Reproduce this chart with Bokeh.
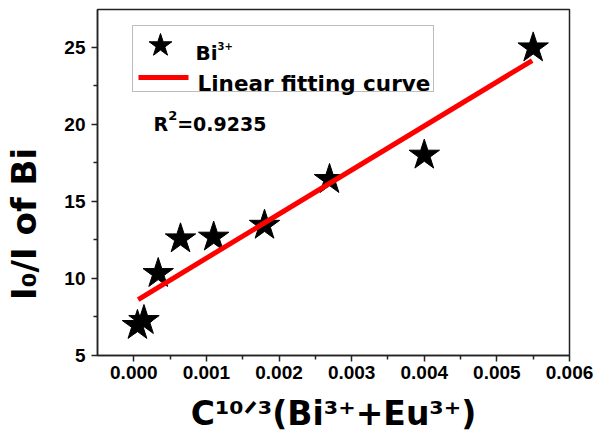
from bokeh.plotting import figure
from bokeh.models import Range1d, Label, FixedTicker, PrintfTickFormatter, BoxAnnotation
from bokeh.embed import file_html
from bokeh.resources import INLINE

# ---- data ----
conc = [0.00005, 0.00014, 0.000336, 0.000643, 0.0011, 0.0018, 0.002695, 0.0040, 0.0055]
ratio = [6.95, 7.27, 10.32, 12.57, 12.68, 13.45, 16.42, 18.0, 24.96]
fit_x = [0.00006, 0.005486]
fit_y = [8.63, 24.14]
x_ticks = [0.0, 0.001, 0.002, 0.003, 0.004, 0.005, 0.006]
y_ticks = [5, 10, 15, 20, 25]
r_squared = "0.9235"
series_label = "Bi"
series_sup = "3+"
fit_label = "Linear fitting curve"
x_title = "C\u00b9\u2070\u141f\u00b3(Bi\u00b3\u207a+Eu\u00b3\u207a)"
y_title = "I\u2080/I of Bi"

# ---- layout ----
W, H = 604, 436
L, R, T, B = 97, 35, 9, 81
X0, X1 = -0.0005, 0.006
Y0, Y1 = 5, 27.45
FW, FH = W - L - R, H - T - B


def dx(px):
    return X0 + (px - L) / FW * (X1 - X0)


def dy(py):
    return Y0 + (H - B - py) / FH * (Y1 - Y0)


# DejaVu Sans Bold advance widths (em)
ADV = {"I": .372, "0": .696, "1": .696, "2": .696, "3": .696, "5": .696, "9": .696,
       "/": .365, " ": .348, "o": .687, "f": .435, "B": .762, "i": .343, "C": .734,
       "(": .456, ")": .456, "+": .838, "E": .683, "u": .712, "R": .770, "=": .838,
       ".": .381}


def tw(text, size):
    return sum(ADV.get(c, .65) for c in text) * size


p = figure(width=W, height=H, x_range=Range1d(X0, X1), y_range=Range1d(Y0, Y1),
           output_backend="svg", toolbar_location=None,
           min_border_left=L, min_border_right=R, min_border_top=T, min_border_bottom=B)
p.background_fill_color = "white"
p.border_fill_color = "white"
p.grid.visible = False
p.outline_line_color = "#222222"
p.outline_line_width = 1.5

x_minor = [(a + b) / 2 for a, b in zip(x_ticks[:-1], x_ticks[1:])]
y_minor = [(a + b) / 2 for a, b in zip(y_ticks[:-1], y_ticks[1:])] + [27.5]
p.xaxis.ticker = FixedTicker(ticks=x_ticks, minor_ticks=x_minor)
p.yaxis.ticker = FixedTicker(ticks=y_ticks, minor_ticks=y_minor)
p.xaxis.formatter = PrintfTickFormatter(format="%.3f")
p.yaxis.formatter = PrintfTickFormatter(format="%d")
for ax in (p.xaxis, p.yaxis):
    ax.axis_line_color = "#222222"
    ax.axis_line_width = 1.5
    ax.major_tick_line_color = "#222222"
    ax.minor_tick_line_color = "#222222"
    ax.major_tick_line_width = 1.5
    ax.minor_tick_line_width = 1.5
    ax.major_tick_in = 0
    ax.major_tick_out = 6
    ax.minor_tick_in = 0
    ax.minor_tick_out = 4
    ax.major_label_text_font = "Liberation Sans"
    ax.major_label_text_font_style = "bold"
    ax.major_label_text_font_size = "19px"
    ax.major_label_text_color = "black"
    ax.axis_label_text_font = "DejaVu Sans"
    ax.axis_label_text_font_style = "bold"
    ax.axis_label_text_color = "black"
p.xaxis.major_label_standoff = 4
p.yaxis.major_label_standoff = 6
# trailing no-break spaces shift the rotated title toward the bottom, as in the reference
p.xaxis.axis_label = x_title
p.yaxis.axis_label = y_title + "\u00a0" * 7
p.xaxis.axis_label_text_font_size = "33px"
p.yaxis.axis_label_text_font_size = "34px"
p.xaxis.axis_label_standoff = 12
p.yaxis.axis_label_standoff = 17

# data and fit
p.scatter(conc, ratio, marker="star", size=32, color="black")
p.line(fit_x, fit_y, line_color="#ff0000", line_width=5)

# legend (manual)
p.add_layout(BoxAnnotation(left=dx(132), right=dx(433), top=dy(25), bottom=dy(91),
                           fill_color=None, line_color="#222222", line_width=1))
p.scatter([dx(160)], [dy(45)], marker="star", size=24, color="black")
p.line([dx(138), dx(188)], [dy(77), dy(77)], line_color="#ff0000", line_width=5)


def lab(text, px, py, size, angle=0.0):
    p.add_layout(Label(x=dx(px), y=dy(py), text=text, text_font="DejaVu Sans",
                       text_font_size=f"{size}px", text_font_style="bold",
                       text_baseline="alphabetic", text_align="left",
                       angle=angle, text_color="black"))


lab(series_label, 195, 52, 20)
lab(series_sup, 195 + tw(series_label, 20), 45, 10)
lab(fit_label, 197, 83, 21.5)

# R^2 annotation
x = 153
lab("R", x, 123, 19)
x += tw("R", 19)
lab("2", x, 115, 13)
x += tw("2", 13)
lab("=" + r_squared, x, 123, 19)

open("out.html", "w").write(file_html(p, INLINE))
